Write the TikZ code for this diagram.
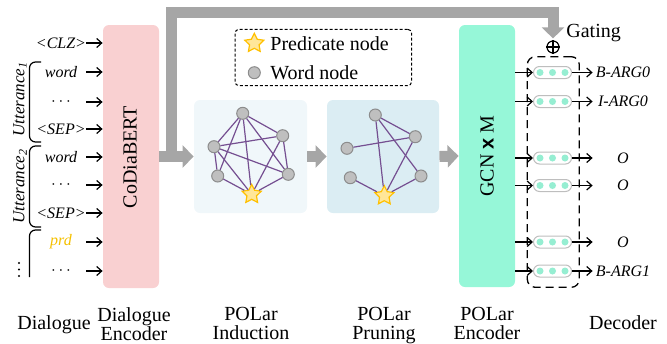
\documentclass[tikz,border=0pt]{standalone}
\usepackage{fontspec}
\setmainfont{Liberation Serif}
\newfontfamily\xsans{Liberation Sans}
\usetikzlibrary{arrows.meta,shapes.geometric,calc}
\definecolor{encpink}{RGB}{249,208,209}
\definecolor{gcngreen}{RGB}{150,247,216}
\definecolor{indbg}{RGB}{240,247,250}
\definecolor{prunbg}{RGB}{219,237,243}
\definecolor{bigarrow}{RGB}{166,166,166}
\definecolor{edgepurple}{RGB}{117,79,145}
\definecolor{nodefill}{RGB}{191,191,191}
\definecolor{nodedraw}{RGB}{140,140,140}
\definecolor{starfill}{RGB}{255,230,153}
\definecolor{stardraw}{RGB}{255,192,0}
\definecolor{prdcolor}{RGB}{245,192,0}
\definecolor{dotgreen}{RGB}{150,238,210}
\definecolor{pillborder}{RGB}{190,190,190}
\begin{document}
\begin{tikzpicture}[x=0.5pt,y=-0.5pt,
  smallfont/.style={font=\fontsize{8}{9.6}\selectfont\itshape},
  inlabel/.style={smallfont, inner sep=0pt, minimum width=25pt, minimum height=8pt},
  outlabel/.style={smallfont, inner sep=0pt, minimum width=30pt, minimum height=8pt},
  thinarrow/.style={-{Straight Barb[length=2.5pt,width=4.5pt]}, line width=0.6pt},
  bigarrowstyle/.style={draw=bigarrow, line width=5.5pt, line join=miter, -{Triangle[length=5.5pt,width=11pt]}},
  wordnode/.style={circle, fill=nodefill, draw=nodedraw, line width=0.5pt, minimum size=6pt, inner sep=0pt},
  prednode/.style={star, star points=5, star point ratio=2.0, fill=starfill, draw=stardraw, line width=0.6pt, minimum size=10pt, inner sep=0pt},
  gedge/.style={draw=edgepurple, line width=0.6pt},
  stagebox/.style={rounded corners=3pt, inner sep=0pt},
  caption/.style={align=center, font=\fontsize{10}{9.5}\selectfont, inner sep=0pt},
  pill/.style={rounded corners=3pt, draw=pillborder, fill=white, line width=0.5pt, minimum width=19pt, minimum height=6pt, inner sep=0pt},
  pilldot/.style={circle, fill=dotgreen, minimum size=3.5pt, inner sep=0pt},
  bracket/.style={line width=0.6pt, rounded corners=3pt},
  rotlabel/.style={rotate=90, font=\fontsize{8.5}{10}\selectfont\itshape, inner sep=0pt},
  vdot/.style={circle, fill=black, minimum size=1.1pt, inner sep=0pt}
]
\useasboundingbox (0,0) rectangle (667,343);

% stage boxes
\node[stagebox, fill=encpink, minimum width=28pt, minimum height=131.5pt] (enc) at (131,156.5) {};
\node[rotate=90, inner sep=0pt] (enctext) at (130,157) {CoDiaBERT};
\node[stagebox, fill=indbg, minimum width=56.5pt, minimum height=56.5pt] (ind) at (250.5,156.5) {};
\node[stagebox, fill=prunbg, minimum width=56pt, minimum height=56.5pt] (prun) at (383,156.5) {};
\node[stagebox, fill=gcngreen, minimum width=28pt, minimum height=131pt] (gcn) at (487,156) {};
\node[rotate=90, inner sep=0pt] (gcntext) at (487,156) {GCN {\xsans\bfseries x} M};

% gating
\node[circle, draw, line width=0.6pt, minimum size=6pt, inner sep=0pt] (gate) at (553,47) {};
\draw[line width=0.6pt] (gate.north) -- (gate.south) (gate.west) -- (gate.east);
\node[anchor=west, inner sep=0pt] (gating) at (566,33) {Gating};

% big gray arrows
\coordinate (split) at (171.5,156.5);
\coordinate (top) at (0,12.5);
\draw[bigarrowstyle] (enc.east) -- (ind.west);
\draw[bigarrowstyle, shorten >=1pt] (split) -- (split |- top) -| (gate.north);
\draw[bigarrowstyle] (ind.east) -- (prun.west);
\draw[bigarrowstyle] (prun.east) -- (gcn.west);

% legend
\node[draw, rounded corners=2pt, dash pattern=on 1.5pt off 1pt, line width=0.5pt, minimum width=88.3pt, minimum height=28.2pt, inner sep=0pt] (legend) at (323.3,57.5) {};
\node[prednode] (legstar) at (254.3,43.3) {};
\node[wordnode] (legword) at (254.3,72.7) {};
\node[anchor=west, inner sep=0pt] (legpredtext) at (270,43.3) {Predicate node};
\node[anchor=west, inner sep=0pt] (legwordtext) at (270,72.7) {Word node};

% induction graph
\node[wordnode] (iT) at (242.7,113.3) {};
\node[wordnode] (iR) at (282.7,135.7) {};
\node[wordnode] (iL) at (214,146.7) {};
\node[wordnode] (iBL) at (217.7,176) {};
\node[wordnode] (iBR) at (288.3,174.3) {};
\node[prednode] (iS) at (251.7,194.3) {};
\foreach \a/\b in {iT/iL,iT/iBL,iT/iS,iT/iR,iT/iBR,iL/iR,iL/iBR,iL/iS,iL/iBL,iR/iS,iR/iBR,iBL/iS,iBR/iS}
  \draw[gedge] (\a) -- (\b);

% pruning graph
\node[wordnode] (pT) at (375.3,115) {};
\node[wordnode] (pR) at (415.3,136.7) {};
\node[wordnode] (pL) at (347,148.3) {};
\node[wordnode] (pBL) at (350.3,177.7) {};
\node[wordnode] (pBR) at (421,176) {};
\node[prednode] (pS) at (384.3,195.7) {};
\foreach \a/\b in {pT/pR,pT/pS,pT/pBR,pL/pR,pR/pS,pBL/pS,pBR/pS}
  \draw[gedge] (\a) -- (\b);

% inputs
\node[inlabel] (in1) at (61,43) {<CLZ>};
\node[inlabel] (in2) at (61,72) {word};
\node[inlabel] (in3) at (61,102) {$\cdots$};
\node[inlabel] (in4) at (61,129) {<SEP>};
\node[inlabel] (in5) at (61,157) {word};
\node[inlabel] (in6) at (61,185) {$\cdots$};
\node[inlabel] (in7) at (61,213) {<SEP>};
\node[inlabel, text=prdcolor] (in8) at (61,242) {prd};
\node[inlabel] (in9) at (61,271) {$\cdots$};
\foreach \i in {1,...,9}
  \draw[thinarrow] (in\i.east) -- (in\i.east -| enc.west);

% brackets and utterance labels
\draw[bracket] (41,62) -- (29.5,62) -- (29.5,142) -- (41,142);
\draw[bracket] (41,146) -- (29.5,146) -- (29.5,227) -- (41,227);
\draw[bracket] (41,230) -- (29.5,230) -- (29.5,277);
\node[rotlabel] (utt1) at (20,99) {Utterance\textsubscript{1}};
\node[rotlabel] (utt2) at (20,186) {Utterance\textsubscript{2}};
\node[vdot] (vd1) at (19,263) {};
\node[vdot] (vd2) at (19,269.5) {};
\node[vdot] (vd3) at (19,276) {};

% decoder
\node[draw, rounded corners=4pt, dash pattern=on 4pt off 2.5pt, line width=0.65pt, minimum width=26pt, minimum height=115.3pt, inner sep=0pt] (dec) at (553.3,172) {};
\foreach \i/\y/\lab in {1/72.5/B-ARG0,2/101.5/I-ARG0,3/158/O,4/185.5/O,5/242/O,6/271/B-ARG1}{
  \node[pill] (p\i) at (552.5,\y) {};
  \node[pilldot] (p\i a) at (540,\y) {};
  \node[pilldot] (p\i b) at (552.5,\y) {};
  \node[pilldot] (p\i c) at (565,\y) {};
  \node[outlabel] (o\i) at (623,\y) {\lab};
  \draw[thinarrow] (p\i.west -| gcn.east) -- (p\i.west);
  \draw[thinarrow] (p\i.east) -- (o\i.west);
}

% captions
\node[caption, anchor=base] (c1) at (54,329.7) {Dialogue};
\node[caption, anchor=north] (c2) at (134,307) {Dialogue\\Encoder};
\node[caption, anchor=north] (c3) at (251,307) {POLar\\Induction};
\node[caption, anchor=north] (c4) at (384,307) {POLar\\Pruning};
\node[caption, anchor=north] (c5) at (487,307) {POLar\\Encoder};
\node[caption, anchor=base] (c6) at (623,329.7) {Decoder};
\end{tikzpicture}
\end{document}
